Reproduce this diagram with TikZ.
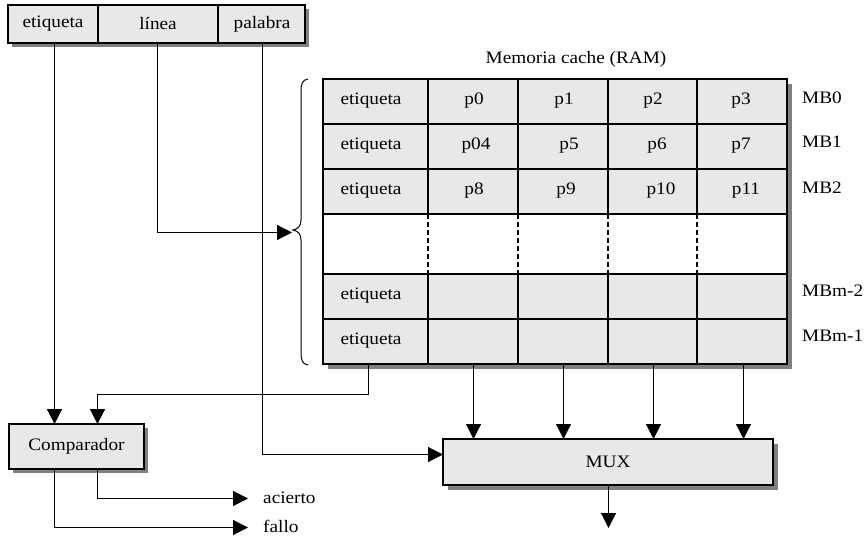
\documentclass[tikz,border=0pt]{standalone}
\usepackage{fontspec}
\setmainfont[FakeStretch=1.1]{Liberation Serif}
\usetikzlibrary{arrows.meta}
\definecolor{cellgray}{RGB}{232,232,232}
\definecolor{shadowgray}{RGB}{128,128,128}
\begin{document}
\begin{tikzpicture}[x=1pt,y=-1pt,
  txt/.style={font=\fontsize{17.5}{19}\selectfont, inner sep=0pt},
  box/.style={draw=black, line width=1.3pt, fill=cellgray},
  shad/.style={fill=shadowgray},
  grid/.style={line width=1.2pt},
  wire/.style={line width=1.2pt},
  arr/.style={wire, -{Triangle[length=15pt,width=15pt]}}]
\useasboundingbox (0,0) rectangle (867,537);

% top address box
\fill[shad] (12,9) rectangle (309,47);
\draw[box] (8,5) rectangle (305,43);
\draw[grid] (98,5) -- (98,43) (218,5) -- (218,43);
\node[txt] (fet) at (53,24) {etiqueta};
\node[txt] (flin) at (158,24) {línea};
\node[txt] (fpal) at (262,24) {palabra};
\coordinate (fetb) at (54.5,43);
\coordinate (flinb) at (157.5,43);
\coordinate (fpalb) at (262.5,43);

% cache table
\node[txt] (title) at (576,59) {Memoria cache (RAM)};
\fill[shad] (328,84) rectangle (792,369);
\fill[cellgray] (323,79) rectangle (787,214);
\fill[white] (323,214) rectangle (787,274);
\fill[cellgray] (323,274) rectangle (787,364);
\foreach \y in {124,169,214,274,319} \draw[grid] (323,\y) -- (787,\y);
\foreach \x in {428,518,608,697} {
  \draw[grid] (\x,79) -- (\x,214);
  \draw[grid, dashed, dash pattern=on 5pt off 3pt] (\x,214) -- (\x,274);
  \draw[grid] (\x,274) -- (\x,364);
}
\draw[grid, line width=1.4pt] (323,79) rectangle (787,364);

% cell texts
\node[txt] (e0) at (371,101) {etiqueta};
\node[txt] (e1) at (371,146) {etiqueta};
\node[txt] (e2) at (371,191) {etiqueta};
\node[txt] (e3) at (371,296) {etiqueta};
\node[txt] (e4) at (371,341) {etiqueta};
\node[txt] (p0) at (474,101) {p0};
\node[txt] (p1) at (564,101) {p1};
\node[txt] (p2) at (653,101) {p2};
\node[txt] (p3) at (741,101) {p3};
\node[txt] (p4) at (476,146) {p04};
\node[txt] (p5) at (569,146) {p5};
\node[txt] (p6) at (657,146) {p6};
\node[txt] (p7) at (741,146) {p7};
\node[txt] (p8) at (474,191) {p8};
\node[txt] (p9) at (566,191) {p9};
\node[txt] (p10) at (661,191) {p10};
\node[txt] (p11) at (746,191) {p11};

% block labels
\node[txt, anchor=west] (mb0) at (802,98) {MB0};
\node[txt, anchor=west] (mb1) at (802,142) {MB1};
\node[txt, anchor=west] (mb2) at (802,188) {MB2};
\node[txt, anchor=west] (mbm2) at (802,291) {MBm-2};
\node[txt, anchor=west] (mbm1) at (802,336) {MBm-1};

% brace
\draw[line width=1pt] (308,79) .. controls (302,80) and (301,84) .. (301,92)
  -- (301,220) .. controls (301,226) and (298,229) .. (293,230)
  .. controls (298,231) and (301,234) .. (301,240)
  -- (301,352) .. controls (301,360) and (302,364) .. (308,365);
\coordinate (bracetip) at (292,232.5);

% bottom coordinates of table
\coordinate (tb1) at (368.5,364);
\coordinate (tb2) at (473.5,364);
\coordinate (tb3) at (563.5,364);
\coordinate (tb4) at (653.5,364);
\coordinate (tb5) at (743.5,364);

% comparator
\fill[shad] (13,428) rectangle (148,473);
\draw[box] (9,424) rectangle (144,469);
\node[txt] (comp) at (76.5,446.5) {Comparador};
\coordinate (compin1) at (54.5,424);
\coordinate (compin2) at (97.5,424);
\coordinate (compout1) at (97.5,469);
\coordinate (compout2) at (54.5,469);

% MUX
\fill[shad] (448,444) rectangle (778,490);
\draw[box] (443,439) rectangle (773,485);
\node[txt] (mux) at (608,462) {MUX};
\coordinate (muxin) at (443,454.5);
\coordinate (muxout) at (608.5,485);
\coordinate (muxend) at (608.5,528);

% outputs
\node[txt, anchor=west] (acierto) at (263,498) {acierto};
\node[txt, anchor=west] (fallo) at (263,526) {fallo};
\coordinate (aciertotip) at (248,498.5);
\coordinate (fallotip) at (248,527.5);

% connectors
\draw[arr] (fetb) -- (compin1);
\draw[arr] (flinb) |- (bracetip);
\draw[arr] (fpalb) |- (muxin);
\draw[arr] (tb1) -- (368.5,394.5) -| (compin2);
\foreach \i/\x in {2/473.5,3/563.5,4/653.5,5/743.5} \draw[arr] (tb\i) -- (\x,439);
\draw[arr] (muxout) -- (muxend);
\draw[arr] (compout1) |- (aciertotip);
\draw[arr] (compout2) |- (fallotip);
\end{tikzpicture}
\end{document}
